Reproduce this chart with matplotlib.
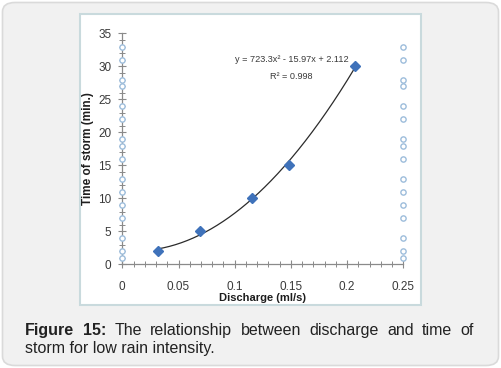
import matplotlib
matplotlib.use('Agg')
import matplotlib.pyplot as plt
import matplotlib.ticker as mticker
from matplotlib.patches import FancyBboxPatch, Rectangle
import numpy as np

NARROW = ['Liberation Sans', 'DejaVu Sans']
CAPFONT = ['Liberation Sans', 'DejaVu Sans']
BLUE = "#3F72BA"
CIRC = "#9DBDDB"
AXGRAY = "#8A8A8A"
TXT = "#3A3A3A"

# data
discharge = [0.0314, 0.0694, 0.115, 0.148, 0.207]
storm_time = [2, 5, 10, 15, 30]
fit_coef = [723.3, -15.97, 2.112]
edge_y = [1, 2, 4, 7, 9, 11, 13, 16, 18, 19, 22, 24, 27, 28, 31, 33]
edge_x = [0.0, 0.25]
xticks = [0, 0.05, 0.1, 0.15, 0.2, 0.25]
xticklabels = ['0', '0.05', '0.1', '0.15', '0.2', '0.25']
yticks = [0, 5, 10, 15, 20, 25, 30, 35]

W, H = 501, 368
fig = plt.figure(figsize=(W / 100, H / 100), dpi=100)
fig.patch.set_facecolor('white')

# outer rounded caption box
fig.patches.append(FancyBboxPatch((2.5 / W, 2.5 / H), (W - 5) / W, (H - 5) / H,
                                  boxstyle="round,pad=0,rounding_size=0.025",
                                  transform=fig.transFigure, facecolor='#F1F1F1',
                                  edgecolor='#DADADA', linewidth=1.2, zorder=0))
# white chart panel
fig.patches.append(Rectangle((80 / W, (H - 305) / H), 341 / W, 291 / H,
                             transform=fig.transFigure, facecolor='white',
                             edgecolor='#C9DADD', linewidth=1.5, zorder=1))

ax = fig.add_axes([122.3 / W, (H - 264.3) / H, 281 / W, 231 / H])
ax.set_facecolor('none')
ax.set_zorder(2)

for xe in edge_x:
    ax.plot([xe] * len(edge_y), edge_y, linestyle='none', marker='o', markersize=3.8,
            markerfacecolor='white', markeredgecolor=CIRC, markeredgewidth=1.0,
            clip_on=False, zorder=3)

xs = np.linspace(min(discharge), max(discharge), 200)
ax.plot(xs, np.polyval(fit_coef, xs), color='#2B2B2B', linewidth=0.9, zorder=4)
ax.plot(discharge, storm_time, linestyle='none', marker='D', markersize=5.5,
        color=BLUE, markeredgecolor=BLUE, zorder=5)

ax.text(0.1505, 31.0, 'y = 723.3x² - 15.97x + 2.112', fontsize=6.6, color=TXT,
        family=NARROW, ha='center', va='center')
ax.text(0.1505, 28.4, 'R² = 0.998', fontsize=6.6, color=TXT,
        family=NARROW, ha='center', va='center')

ax.set_xlim(0, 0.25)
ax.set_ylim(0, 35)
ax.set_xticks(xticks)
ax.set_xticklabels(xticklabels)
ax.set_yticks(yticks)
ax.xaxis.set_minor_locator(mticker.MultipleLocator(0.01))
ax.yaxis.set_minor_locator(mticker.MultipleLocator(1))
for s in ['top', 'right']:
    ax.spines[s].set_visible(False)
for s in ['left', 'bottom']:
    ax.spines[s].set_color(AXGRAY)
    ax.spines[s].set_linewidth(0.9)
ax.tick_params(which='major', direction='inout', length=6, width=0.8, color=AXGRAY,
               labelsize=8.5, labelcolor=TXT)
ax.tick_params(which='minor', direction='inout', length=4, width=0.7, color=AXGRAY)
ax.tick_params(axis='x', which='major', pad=9)
ax.tick_params(axis='y', which='major', pad=5)
for lab in ax.get_xticklabels() + ax.get_yticklabels():
    lab.set_family(NARROW)

ax.set_xlabel('Discharge (ml/s)', fontsize=8, fontweight='bold', family=NARROW,
              color='#1E1E1E', labelpad=0)
ax.set_ylabel('Time of storm (min.)', fontsize=8.5, fontweight='bold', family=CAPFONT,
              color='#1E1E1E', labelpad=3)

# caption, first line justified
fig.canvas.draw()
r = fig.canvas.get_renderer()
x0, x1 = 25, 474
y1 = H - 335
words = [('Figure', 'bold'), ('15:', 'bold'), ('The', 'normal'), ('relationship', 'normal'),
         ('between', 'normal'), ('discharge', 'normal'), ('and', 'normal'),
         ('time', 'normal'), ('of', 'normal')]
tmp = []
for w, fw in words:
    t = fig.text(0, 0, w, fontsize=11.5, fontweight=fw, family=CAPFONT, color='#222222')
    tmp.append(t)
widths = [t.get_window_extent(r).width for t in tmp]
gap = (x1 - x0 - sum(widths)) / (len(words) - 1)
x = x0
for t, wd in zip(tmp, widths):
    t.set_position((x / W, y1 / H))
    t.set_va('baseline')
    x += wd + gap
fig.text(x0 / W, (H - 353) / H, 'storm for low rain intensity.', fontsize=11.5,
         family=CAPFONT, color='#222222', va='baseline')

fig.savefig('out.png', dpi=100)
